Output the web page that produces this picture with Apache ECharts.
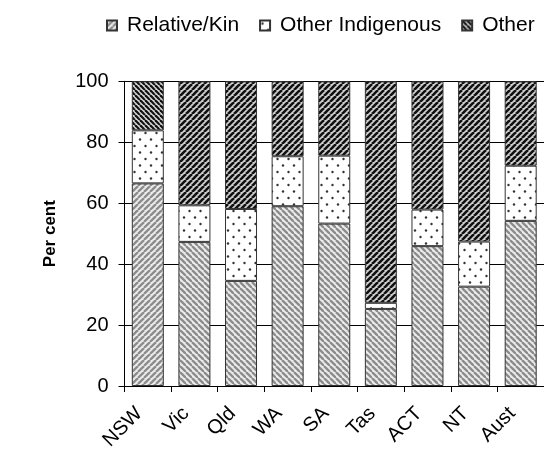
<!DOCTYPE html>
<html><head><meta charset="utf-8">
<script src="https://cdn.jsdelivr.net/npm/echarts@6/dist/echarts.min.js"></script>
<style>html,body{margin:0;padding:0;background:#fff}#c{width:544px;height:454px}</style>
</head><body><div id="c"></div>
<script>
const categories = ['NSW','Vic','Qld','WA','SA','Tas','ACT','NT','Aust'];
const relativeKin = [66.5,47.3,34.5,59.0,53.3,25.3,45.9,32.6,54.2];
const otherIndigenous = [17.4,12.0,23.6,16.4,22.3,2.0,12.0,14.8,18.1];
const other = [16.1,40.7,41.9,24.6,24.4,72.7,42.1,52.6,27.7];
const yTicks = [0,20,40,60,80,100];
const seriesNames = ['Relative/Kin','Other Indigenous','Other'];

function stripes(period, dir, bg, fg, lw) {
  const c = document.createElement('canvas'); c.width = period; c.height = period;
  const g = c.getContext('2d'); g.fillStyle = bg; g.fillRect(0,0,period,period);
  g.strokeStyle = fg; g.lineWidth = lw;
  for (let k = -1; k <= 1; k++) {
    g.beginPath();
    if (dir === '/') { g.moveTo(k*period, period); g.lineTo(k*period+period, 0); }
    else { g.moveTo(k*period, 0); g.lineTo(k*period+period, period); }
    g.stroke();
  }
  return {image: c, repeat: 'repeat'};
}
function dots() {
  const w = 11, h = 13;
  const c = document.createElement('canvas'); c.width = w; c.height = h;
  const g = c.getContext('2d'); g.fillStyle = '#fff'; g.fillRect(0,0,w,h);
  g.fillStyle = '#333';
  [[2.5,3],[8,9.5]].forEach(p => { g.beginPath(); g.arc(p[0], p[1], 1.2, 0, Math.PI*2); g.fill(); });
  return {image: c, repeat: 'repeat'};
}
const kinA = stripes(6, '/', '#ececec', '#8c8c8c', 2.3);
const kinB = stripes(6, '\\', '#ececec', '#8c8c8c', 2.3);
const otherA = stripes(5, '\\', '#d8d8d8', '#111', 2.2);
const otherB = stripes(6, '/', '#d0d0d0', '#111', 2.6);
const oiPat = dots();

function items(values, first, rest) {
  return values.map((v, i) => ({value: v, itemStyle: {color: i === 0 ? first : rest}}));
}
const chart = echarts.init(document.getElementById('c'), null, {renderer: 'canvas'});
const base = {type: 'bar', stack: 'all', barWidth: 32};
chart.setOption({
  animation: false,
  textStyle: {fontFamily: 'Liberation Sans, Arial, sans-serif'},
  legend: {
    data: seriesNames, left: 101, top: 10, icon: 'rect', itemWidth: 10, itemHeight: 10,
    itemGap: 20, textStyle: {fontSize: 21, color: '#000', padding: [0,0,0,5]}
  },
  grid: {left: 124.5, top: 81.3, width: 433, height: 304.7, containLabel: false},
  xAxis: {
    type: 'category', data: categories,
    axisLine: {lineStyle: {color: '#000'}},
    axisTick: {show: true, length: 6, lineStyle: {color: '#000'}},
    axisLabel: {rotate: 45, fontSize: 20, color: '#000', margin: 16, padding: [0, 12, 0, 0]}
  },
  yAxis: {
    type: 'value', min: yTicks[0], max: yTicks[yTicks.length-1], interval: 20,
    name: 'Per cent', nameLocation: 'middle', nameRotate: 90, nameGap: 66,
    nameTextStyle: {fontSize: 17, fontWeight: 'bold', color: '#000'},
    axisLine: {show: true, lineStyle: {color: '#000'}},
    axisTick: {show: true, length: 6, lineStyle: {color: '#000'}},
    axisLabel: {fontSize: 20, color: '#000', margin: 16},
    splitLine: {show: true, lineStyle: {color: '#000', width: 1}}
  },
  series: [
    Object.assign({}, base, {name: seriesNames[0], data: items(relativeKin, kinA, kinB),
      itemStyle: {color: kinA, borderColor: '#333', borderWidth: 1}}),
    Object.assign({}, base, {name: seriesNames[1], data: otherIndigenous,
      itemStyle: {color: oiPat, borderColor: '#333', borderWidth: 1}}),
    Object.assign({}, base, {name: seriesNames[2], data: items(other, otherA, otherB),
      itemStyle: {color: otherA, borderColor: '#333', borderWidth: 1}})
  ]
});
</script></body></html>
